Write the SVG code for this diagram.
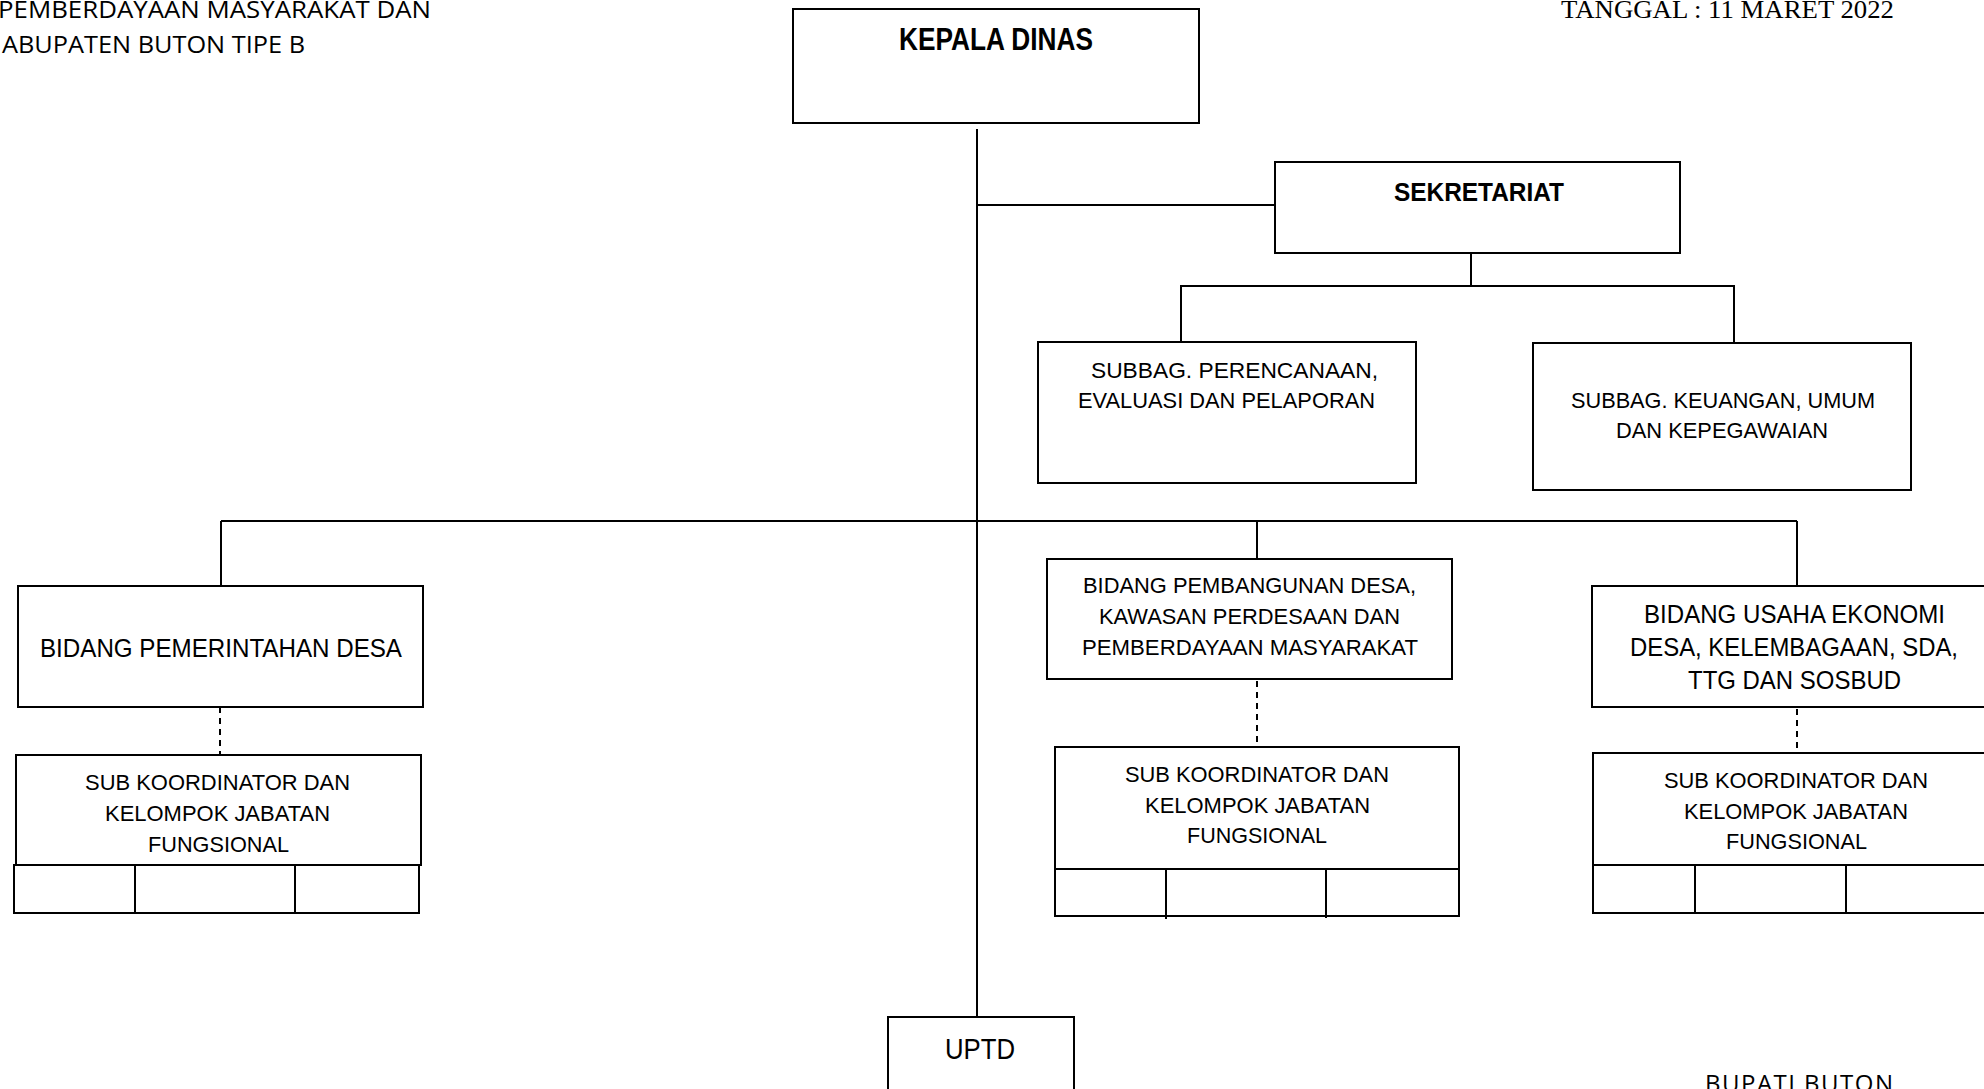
<svg xmlns="http://www.w3.org/2000/svg" width="1984" height="1089" viewBox="0 0 1984 1089">
<style>
.box{fill:#fff;stroke:#000;stroke-width:2}
.ln{fill:none;stroke:#000;stroke-width:2}
.dash{fill:none;stroke:#000;stroke-width:2;stroke-dasharray:6 5}
.t{font-family:"Liberation Sans",Arial,sans-serif;fill:#000}
.b{font-weight:bold}
.hd{font-family:"Open Sans","Liberation Sans",sans-serif;font-size:24px;fill:#000}
.sf{font-family:"Liberation Serif","Times New Roman",serif;font-size:26px;fill:#000}
</style>
<rect width="1984" height="1089" fill="#fff"/>
<g id="header">
<text class="hd" x="-2" y="18" textLength="433" lengthAdjust="spacingAndGlyphs">PEMBERDAYAAN MASYARAKAT DAN</text>
<text class="hd" x="2" y="53" textLength="303" lengthAdjust="spacingAndGlyphs">ABUPATEN BUTON TIPE B</text>
<text class="sf" x="1561" y="18" textLength="333" lengthAdjust="spacingAndGlyphs">TANGGAL : 11 MARET 2022</text>
<text class="hd" x="1705" y="1092" textLength="188" lengthAdjust="spacing">BUPATI  BUTON</text>
</g>
<g id="connectors">
<line class="ln" x1="977" y1="129" x2="977" y2="1017"/>
<line class="ln" x1="977" y1="205" x2="1275" y2="205"/>
<line class="ln" x1="1471" y1="253" x2="1471" y2="286"/>
<polyline class="ln" points="1181,342 1181,286 1734,286 1734,343"/>
<line class="ln" x1="221" y1="521" x2="1797" y2="521"/>
<line class="ln" x1="221" y1="521" x2="221" y2="586"/>
<line class="ln" x1="1257" y1="521" x2="1257" y2="559"/>
<line class="ln" x1="1797" y1="521" x2="1797" y2="586"/>
<line class="dash" x1="220" y1="707" x2="220" y2="755"/>
<line class="dash" x1="1257" y1="681" x2="1257" y2="747"/>
<line class="dash" x1="1797" y1="709" x2="1797" y2="753"/>
</g>
<g id="kepala-dinas">
<rect class="box" x="793" y="9" width="406" height="114"/>
<text class="t b" x="899" y="50" font-size="31" textLength="194" lengthAdjust="spacingAndGlyphs">KEPALA DINAS</text>
</g>
<g id="sekretariat">
<rect class="box" x="1275" y="162" width="405" height="91"/>
<text class="t b" x="1394" y="201" font-size="26" textLength="170" lengthAdjust="spacingAndGlyphs">SEKRETARIAT</text>
</g>
<g id="subbag-perencanaan">
<rect class="box" x="1038" y="342" width="378" height="141"/>
<text class="t" x="1091" y="378" font-size="22" textLength="287" lengthAdjust="spacingAndGlyphs">SUBBAG. PERENCANAAN,</text>
<text class="t" x="1078" y="408" font-size="22" textLength="297" lengthAdjust="spacingAndGlyphs">EVALUASI DAN PELAPORAN</text>
</g>
<g id="subbag-keuangan">
<rect class="box" x="1533" y="343" width="378" height="147"/>
<text class="t" x="1571" y="408" font-size="22" textLength="304" lengthAdjust="spacingAndGlyphs">SUBBAG. KEUANGAN, UMUM</text>
<text class="t" x="1616" y="438" font-size="22" textLength="212" lengthAdjust="spacingAndGlyphs">DAN KEPEGAWAIAN</text>
</g>
<g id="bidang-pemerintahan">
<rect class="box" x="18" y="586" width="405" height="121"/>
<text class="t" x="40" y="657" font-size="25" textLength="362" lengthAdjust="spacingAndGlyphs">BIDANG PEMERINTAHAN DESA</text>
</g>
<g id="subkoor-1">
<rect class="box" x="16" y="755" width="405" height="110"/>
<text class="t" x="85" y="790" font-size="22" textLength="265" lengthAdjust="spacingAndGlyphs">SUB KOORDINATOR DAN</text>
<text class="t" x="105" y="821" font-size="22" textLength="225" lengthAdjust="spacingAndGlyphs">KELOMPOK JABATAN</text>
<text class="t" x="148" y="852" font-size="22" textLength="141" lengthAdjust="spacingAndGlyphs">FUNGSIONAL</text>
<rect class="box" x="14" y="865" width="405" height="48"/>
<line class="ln" x1="135" y1="865" x2="135" y2="913"/>
<line class="ln" x1="295" y1="865" x2="295" y2="913"/>
</g>
<g id="bidang-pembangunan">
<rect class="box" x="1047" y="559" width="405" height="120"/>
<text class="t" x="1083" y="593" font-size="22" textLength="333" lengthAdjust="spacingAndGlyphs">BIDANG PEMBANGUNAN DESA,</text>
<text class="t" x="1099" y="624" font-size="22" textLength="301" lengthAdjust="spacingAndGlyphs">KAWASAN PERDESAAN DAN</text>
<text class="t" x="1082" y="655" font-size="22" textLength="336" lengthAdjust="spacingAndGlyphs">PEMBERDAYAAN MASYARAKAT</text>
</g>
<g id="subkoor-2">
<rect class="box" x="1055" y="747" width="404" height="122"/>
<text class="t" x="1125" y="782" font-size="22" textLength="264" lengthAdjust="spacingAndGlyphs">SUB KOORDINATOR DAN</text>
<text class="t" x="1145" y="813" font-size="22" textLength="225" lengthAdjust="spacingAndGlyphs">KELOMPOK JABATAN</text>
<text class="t" x="1187" y="843" font-size="22" textLength="140" lengthAdjust="spacingAndGlyphs">FUNGSIONAL</text>
<rect class="box" x="1055" y="869" width="404" height="47"/>
<line class="ln" x1="1166" y1="869" x2="1166" y2="919"/>
<line class="ln" x1="1326" y1="869" x2="1326" y2="918"/>
</g>
<g id="bidang-usaha">
<rect class="box" x="1592" y="586" width="400" height="121"/>
<text class="t" x="1644" y="623" font-size="25" textLength="301" lengthAdjust="spacingAndGlyphs">BIDANG USAHA EKONOMI</text>
<text class="t" x="1630" y="656" font-size="25" textLength="328" lengthAdjust="spacingAndGlyphs">DESA, KELEMBAGAAN, SDA,</text>
<text class="t" x="1688" y="689" font-size="25" textLength="213" lengthAdjust="spacingAndGlyphs">TTG DAN SOSBUD</text>
</g>
<g id="subkoor-3">
<rect class="box" x="1593" y="753" width="400" height="112"/>
<text class="t" x="1664" y="788" font-size="22" textLength="264" lengthAdjust="spacingAndGlyphs">SUB KOORDINATOR DAN</text>
<text class="t" x="1684" y="819" font-size="22" textLength="224" lengthAdjust="spacingAndGlyphs">KELOMPOK JABATAN</text>
<text class="t" x="1726" y="849" font-size="22" textLength="141" lengthAdjust="spacingAndGlyphs">FUNGSIONAL</text>
<rect class="box" x="1593" y="865" width="400" height="48"/>
<line class="ln" x1="1695" y1="865" x2="1695" y2="913"/>
<line class="ln" x1="1846" y1="865" x2="1846" y2="913"/>
</g>
<g id="uptd">
<rect class="box" x="888" y="1017" width="186" height="80"/>
<text class="t" x="945" y="1059" font-size="30" textLength="70" lengthAdjust="spacingAndGlyphs">UPTD</text>
</g>
</svg>
